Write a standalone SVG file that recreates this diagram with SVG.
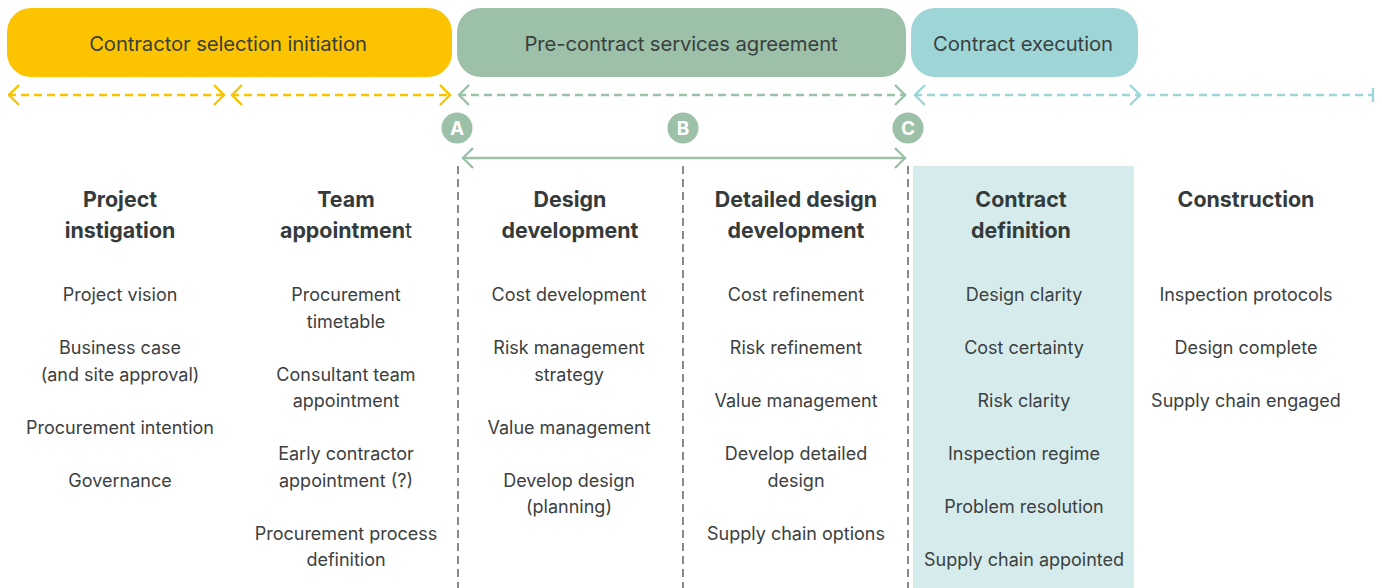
<svg xmlns="http://www.w3.org/2000/svg" width="1382" height="588" viewBox="0 0 1382 588">
<style>
.pill-t{font-family:Inter,"Liberation Sans",Arial,sans-serif;font-size:20.3px;fill:#3a3f3f;text-anchor:middle;letter-spacing:-0.1px}
.head{font-family:Inter,"Liberation Sans",Arial,sans-serif;font-size:21.4px;font-weight:bold;fill:#353b3b;text-anchor:middle}
.item{font-family:Inter,"Liberation Sans",Arial,sans-serif;font-size:18px;fill:#3c4040;text-anchor:middle}
.letter{font-family:Inter,"Liberation Sans",Arial,sans-serif;font-size:19px;font-weight:bold;fill:#ffffff;text-anchor:middle}
.dash{fill:none;stroke-width:2.4;stroke-dasharray:8 5}
.vline{fill:none;stroke:#8a8a8a;stroke-width:2;stroke-dasharray:8 5}
</style>
<defs>
<marker id="ay" viewBox="0 0 13 22" refX="12.5" refY="11" markerWidth="13" markerHeight="22" markerUnits="userSpaceOnUse" orient="auto-start-reverse"><path d="M1.5,1 L11.5,11 L1.5,21" fill="none" stroke="#F8C300" stroke-width="2.4"/></marker>
<marker id="ag" viewBox="0 0 13 22" refX="12.5" refY="11" markerWidth="13" markerHeight="22" markerUnits="userSpaceOnUse" orient="auto-start-reverse"><path d="M1.5,1 L11.5,11 L1.5,21" fill="none" stroke="#9CC0A8" stroke-width="2.4"/></marker>
<marker id="at" viewBox="0 0 13 22" refX="12.5" refY="11" markerWidth="13" markerHeight="22" markerUnits="userSpaceOnUse" orient="auto-start-reverse"><path d="M1.5,1 L11.5,11 L1.5,21" fill="none" stroke="#9ED6D8" stroke-width="2.4"/></marker>
</defs>
<rect width="1382" height="588" fill="#ffffff"/>
<rect x="913" y="166" width="221" height="422" fill="#D6ECEC"/>
<g id="phase-contractor-selection">
<rect x="7" y="8" width="445" height="69" rx="24" fill="#FCC400"/>
<text class="pill-t" x="228" y="51">Contractor selection initiation</text>
</g>
<g id="phase-pcsa">
<rect x="457" y="8" width="449" height="69" rx="24" fill="#9CC0A8"/>
<text class="pill-t" x="681" y="51">Pre-contract services agreement</text>
</g>
<g id="phase-contract-execution">
<rect x="911" y="8" width="227" height="69" rx="24" fill="#9ED6D8"/>
<text class="pill-t" x="1023" y="51">Contract execution</text>
</g>
<g id="connectors">
<line class="dash" x1="8" y1="95" x2="225" y2="95" stroke="#F8C300" marker-start="url(#ay)" marker-end="url(#ay)"/>
<line class="dash" x1="231" y1="95" x2="451" y2="95" stroke="#F8C300" marker-start="url(#ay)" marker-end="url(#ay)"/>
<line class="dash" x1="458" y1="95" x2="906" y2="95" stroke="#9CC0A8" marker-start="url(#ag)" marker-end="url(#ag)"/>
<line class="dash" x1="914" y1="95" x2="1141" y2="95" stroke="#9ED6D8" marker-start="url(#at)" marker-end="url(#at)"/>
<line class="dash" x1="1147" y1="95" x2="1373" y2="95" stroke="#9ED6D8"/>
<line x1="1373" y1="88" x2="1373" y2="102" stroke="#9ED6D8" stroke-width="2.4"/>
<line x1="462" y1="158" x2="906" y2="158" stroke="#9CC0A8" stroke-width="2.4" marker-start="url(#ag)" marker-end="url(#ag)"/>
<line class="vline" x1="458" y1="166" x2="458" y2="588"/>
<line class="vline" x1="683" y1="166" x2="683" y2="588"/>
<line class="vline" x1="908" y1="166" x2="908" y2="588"/>
</g>
<g id="marker-A"><circle cx="457" cy="128" r="15.5" fill="#9CC0A8"/><text class="letter" x="457" y="135">A</text></g>
<g id="marker-B"><circle cx="683" cy="128" r="15.5" fill="#9CC0A8"/><text class="letter" x="683" y="135">B</text></g>
<g id="marker-C"><circle cx="908" cy="128" r="15.5" fill="#9CC0A8"/><text class="letter" x="908" y="135">C</text></g>
<g id="col-project-instigation">
<text class="head" x="120" y="207">Project</text>
<text class="head" x="120" y="238">instigation</text>
<text class="item" x="120" y="300.5">Project vision</text>
<text class="item" x="120" y="353.5">Business case</text>
<text class="item" x="120" y="380.5">(and site approval)</text>
<text class="item" x="120" y="433.5">Procurement intention</text>
<text class="item" x="120" y="486.5">Governance</text>
</g>
<g id="col-team-appointment">
<text class="head" x="346" y="207">Team</text>
<text class="head" x="346" y="238">appointmen<tspan font-weight="normal">t</tspan></text>
<text class="item" x="346" y="300.5">Procurement</text>
<text class="item" x="346" y="327.5">timetable</text>
<text class="item" x="346" y="380.5">Consultant team</text>
<text class="item" x="346" y="406.5">appointment</text>
<text class="item" x="346" y="459.5">Early contractor</text>
<text class="item" x="346" y="486.5">appointment (?)</text>
<text class="item" x="346" y="539.5">Procurement process</text>
<text class="item" x="346" y="565.5">definition</text>
</g>
<g id="col-design-development">
<text class="head" x="570" y="207">Design</text>
<text class="head" x="570" y="238">development</text>
<text class="item" x="569" y="300.5">Cost development</text>
<text class="item" x="569" y="353.5">Risk management</text>
<text class="item" x="569" y="380.5">strategy</text>
<text class="item" x="569" y="433.5">Value management</text>
<text class="item" x="569" y="486.5">Develop design</text>
<text class="item" x="569" y="512.5">(planning)</text>
</g>
<g id="col-detailed-design">
<text class="head" x="796" y="207">Detailed design</text>
<text class="head" x="796" y="238">development</text>
<text class="item" x="796" y="300.5">Cost refinement</text>
<text class="item" x="796" y="353.5">Risk refinement</text>
<text class="item" x="796" y="406.5">Value management</text>
<text class="item" x="796" y="459.5">Develop detailed</text>
<text class="item" x="796" y="486.5">design</text>
<text class="item" x="796" y="539.5">Supply chain options</text>
</g>
<g id="col-contract-definition">
<text class="head" x="1021" y="207">Contract</text>
<text class="head" x="1021" y="238">definition</text>
<text class="item" x="1024" y="300.5">Design clarity</text>
<text class="item" x="1024" y="353.5">Cost certainty</text>
<text class="item" x="1024" y="406.5">Risk clarity</text>
<text class="item" x="1024" y="459.5">Inspection regime</text>
<text class="item" x="1024" y="512.5">Problem resolution</text>
<text class="item" x="1024" y="565.5">Supply chain appointed</text>
</g>
<g id="col-construction">
<text class="head" x="1246" y="207">Construction</text>
<text class="item" x="1246" y="300.5">Inspection protocols</text>
<text class="item" x="1246" y="353.5">Design complete</text>
<text class="item" x="1246" y="406.5">Supply chain engaged</text>
</g>
</svg>
